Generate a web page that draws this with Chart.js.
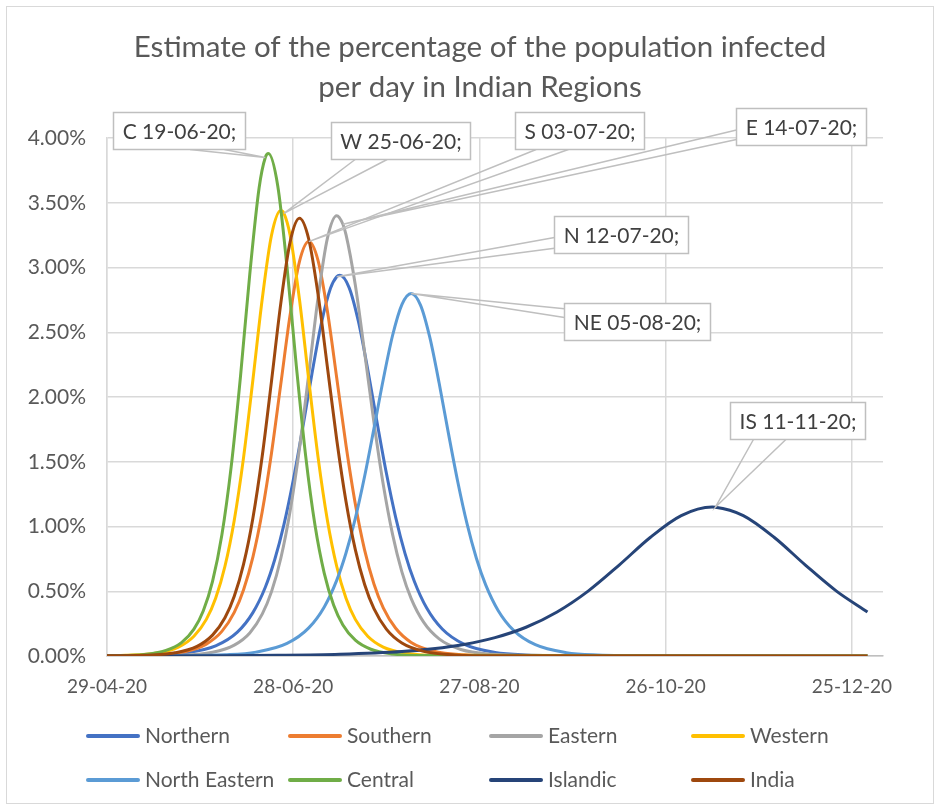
<!DOCTYPE html>
<html>
<head>
<meta charset="utf-8">
<script src="https://cdn.jsdelivr.net/npm/chart.js@4.4.1/dist/chart.umd.min.js"></script>
<style>
  html, body { margin: 0; padding: 0; background: #ffffff; }
  #wrap { position: relative; width: 940px; height: 807px; }
</style>
</head>
<body>
<div id="wrap"><canvas id="chart" width="940" height="807"></canvas></div>
<script>
// ---- chart text -------------------------------------------------------
const titleLines = ['Estimate of the percentage of the population infected', 'per day in Indian Regions'];
const startDate = '29-04-20';                       // day 0 of the x axis
const xTickDays = [0, 60, 120, 180, 240];
const xTickLabels = ['29-04-20', '28-06-20', '27-08-20', '26-10-20', '25-12-20'];

// ---- series: [day since 29-04-20, % of population infected that day] --
const seriesNames = ['Northern', 'Southern', 'Eastern', 'Western', 'North Eastern', 'Central', 'Islandic', 'India'];

const northern = [[0,0.001],[15,0.007],[25,0.023],[35,0.078],[42,0.184],[47,0.335],[51,0.531],[54,0.741],[57,1.014],[60,1.356],[63,1.754],[66,2.176],[69,2.562],[72,2.839],[74,2.929],[75,2.94],[78,2.845],[81,2.583],[84,2.213],[87,1.805],[90,1.413],[93,1.071],[96,0.793],[99,0.577],[103,0.370],[108,0.208],[115,0.091],[125,0.027],[135,0.008],[155,0.001],[245,0]];
const southern = [[0,0.001],[15,0.007],[25,0.033],[32,0.092],[37,0.190],[41,0.337],[44,0.512],[47,0.764],[50,1.114],[53,1.568],[56,2.101],[59,2.635],[62,3.045],[65,3.20],[68,3.053],[71,2.664],[74,2.149],[77,1.627],[80,1.174],[83,0.818],[86,0.556],[89,0.372],[93,0.214],[98,0.105],[105,0.039],[115,0.009],[130,0.001],[245,0]];
const eastern = [[0,0],[24,0.006],[34,0.029],[41,0.084],[46,0.178],[50,0.323],[53,0.497],[56,0.755],[59,1.119],[62,1.601],[65,2.178],[68,2.767],[71,3.225],[74,3.40],[76,3.334],[77,3.254],[80,2.865],[83,2.343],[86,1.803],[89,1.324],[92,0.939],[95,0.650],[98,0.443],[102,0.261],[107,0.132],[114,0.050],[124,0.013],[139,0.002],[245,0]];
const western = [[0,0.002],[6,0.005],[16,0.023],[23,0.069],[28,0.153],[32,0.283],[35,0.446],[38,0.693],[41,1.049],[44,1.534],[47,2.131],[50,2.755],[53,3.249],[56,3.44],[57,3.418],[59,3.249],[62,2.755],[65,2.131],[68,1.534],[71,1.049],[74,0.693],[77,0.446],[80,0.283],[84,0.153],[89,0.069],[96,0.023],[106,0.005],[245,0]];
const northEastern = [[0,0],[23,0.002],[38,0.009],[48,0.030],[58,0.097],[65,0.217],[70,0.379],[74,0.584],[77,0.795],[80,1.063],[83,1.388],[86,1.756],[89,2.135],[92,2.475],[95,2.714],[98,2.80],[101,2.710],[104,2.460],[107,2.108],[110,1.719],[113,1.346],[116,1.020],[119,0.755],[122,0.549],[126,0.352],[131,0.198],[138,0.087],[148,0.026],[158,0.008],[178,0.001],[245,0]];
const central = [[0,0.002],[12,0.012],[19,0.043],[24,0.103],[28,0.208],[31,0.348],[34,0.577],[37,0.934],[40,1.460],[43,2.158],[46,2.949],[49,3.614],[51,3.849],[52,3.88],[55,3.632],[58,3.002],[61,2.239],[64,1.545],[67,1.011],[70,0.638],[73,0.394],[76,0.240],[80,0.122],[85,0.052],[92,0.016],[102,0.003],[245,0]];
const islandic = [[0,0],[35,0.002],[55,0.005],[75,0.013],[95,0.034],[105,0.056],[115,0.089],[125,0.142],[135,0.222],[145,0.340],[155,0.501],[165,0.702],[175,0.915],[185,1.084],[195,1.15],[196,1.149],[205,1.084],[215,0.915],[225,0.702],[235,0.501],[245,0.340]];
const india = [[0,0.001],[12,0.005],[22,0.025],[29,0.074],[34,0.161],[38,0.295],[41,0.461],[44,0.709],[47,1.064],[50,1.542],[53,2.123],[56,2.725],[59,3.198],[62,3.38],[65,3.218],[68,2.791],[71,2.232],[74,1.672],[77,1.193],[80,0.821],[83,0.552],[86,0.365],[90,0.207],[95,0.100],[102,0.036],[112,0.008],[127,0.001],[245,0]];

// ---- peak-date callouts ------------------------------------------------
const calloutTexts  = ['C 19-06-20;', 'W 25-06-20;', 'S 03-07-20;', 'E 14-07-20;', 'N 12-07-20;', 'NE 05-08-20;', 'IS 11-11-20;'];
const calloutSeries = ['Central', 'Western', 'Southern', 'Eastern', 'Northern', 'North Eastern', 'Islandic'];

// ---- styling -----------------------------------------------------------
const FONT = 'Lato, "Open Sans", sans-serif';
const seriesColors = ['#4472C4', '#ED7D31', '#A5A5A5', '#FFC000', '#5B9BD5', '#70AD47', '#264478', '#9E480E'];
const seriesData = [northern, southern, eastern, western, northEastern, central, islandic, india];
// box offset from the pointed-at point, and where the pointer leaves the box
const calloutPlacement = [
  { dx: -86,  dy: -27,  side: 'bottom', a: 0.58, b: 0.84 },
  { dx: 117,  dy: -73,  side: 'bottom', a: 0.17, b: 0.40 },
  { dx: 271,  dy: -111, side: 'bottom', a: 0.16, b: 0.41 },
  { dx: 458,  dy: -98,  side: 'left',   a: 0.58, b: 0.84 },
  { dx: 284,  dy: -42,  side: 'left',   a: 0.57, b: 0.86 },
  { dx: 226,  dy: 28,   side: 'left',   a: 0.14, b: 0.38 },
  { dx: 82,   dy: -87,  side: 'bottom', a: 0.17, b: 0.41 }
];

function parseDay(label) {
  const [d, m, y] = label.split('-').map(Number);
  return Date.UTC(2000 + y, m - 1, d);
}
function dayIndex(label) {
  return Math.round((parseDay(label) - parseDay(startDate)) / 86400000);
}

const datasets = seriesNames.map((name, i) => ({
  label: name,
  data: seriesData[i].map(([x, y]) => ({ x, y })),
  borderColor: seriesColors[i],
  backgroundColor: seriesColors[i],
  borderWidth: 3,
  pointRadius: 0,
  pointHoverRadius: 0,
  fill: false,
  cubicInterpolationMode: 'monotone',
  order: seriesNames.length - 1 - i   // later series are painted on top
}));

const decor = {
  id: 'decor',
  beforeDraw(chart) {
    const ctx = chart.ctx;
    ctx.save();
    ctx.fillStyle = '#ffffff';
    ctx.fillRect(0, 0, chart.width, chart.height);
    ctx.strokeStyle = '#D9D9D9';
    ctx.lineWidth = 1;
    ctx.strokeRect(6.5, 6.5, 927, 797);
    ctx.restore();
  },
  afterDatasetsDraw(chart) {
    const ctx = chart.ctx;
    ctx.save();
    ctx.font = `21px ${FONT}`;
    calloutTexts.forEach((text, i) => {
      const ds = seriesNames.indexOf(calloutSeries[i]);
      const day = dayIndex(text.split(' ')[1].replace(';', ''));
      const idx = chart.data.datasets[ds].data.findIndex(p => p.x === day);
      const pt = chart.getDatasetMeta(ds).data[idx];
      const pl = calloutPlacement[i];
      const w = Math.round(ctx.measureText(text).width + 18);
      const h = 37;
      const left = Math.round(pt.x + pl.dx - w / 2) + 0.5;
      const top = Math.round(pt.y + pl.dy - h / 2) + 0.5;
      let p1, p2;
      if (pl.side === 'bottom') {
        p1 = [left + pl.a * w, top + h];
        p2 = [left + pl.b * w, top + h];
      } else {
        p1 = [left, top + pl.a * h];
        p2 = [left, top + pl.b * h];
      }
      ctx.strokeStyle = '#BFBFBF';
      ctx.lineWidth = 1.5;
      ctx.beginPath();
      ctx.moveTo(p1[0], p1[1]);
      ctx.lineTo(pt.x, pt.y);
      ctx.lineTo(p2[0], p2[1]);
      ctx.stroke();
      ctx.fillStyle = '#ffffff';
      ctx.fillRect(left, top, w, h);
      ctx.strokeRect(left, top, w, h);
      ctx.fillStyle = '#404040';
      ctx.textAlign = 'center';
      ctx.textBaseline = 'middle';
      ctx.fillText(text, left + w / 2, top + h / 2 + 1);
    });
    ctx.restore();
  },
  afterDraw(chart) {
    const ctx = chart.ctx;
    ctx.save();
    // title
    ctx.font = `29.5px ${FONT}`;
    ctx.fillStyle = '#595959';
    ctx.textAlign = 'center';
    ctx.textBaseline = 'alphabetic';
    titleLines.forEach((t, i) => ctx.fillText(t, 480, 57 + i * 40));
    // legend, four columns by two rows
    const cols = [86, 288, 489, 691];
    const rows = [736, 780];
    ctx.font = `21px ${FONT}`;
    ctx.textAlign = 'left';
    ctx.textBaseline = 'middle';
    chart.data.datasets.forEach((ds, i) => {
      const x = cols[i % 4];
      const y = rows[Math.floor(i / 4)];
      ctx.strokeStyle = ds.borderColor;
      ctx.lineWidth = 4;
      ctx.lineCap = 'round';
      ctx.beginPath();
      ctx.moveTo(x + 2, y);
      ctx.lineTo(x + 52, y);
      ctx.stroke();
      ctx.fillStyle = '#595959';
      ctx.fillText(ds.label, x + 59, y);
    });
    ctx.restore();
  }
};

new Chart(document.getElementById('chart'), {
  type: 'line',
  data: { datasets },
  options: {
    responsive: false,
    animation: false,
    layout: { padding: { top: 138, right: 57, bottom: 0, left: 0 } },
    plugins: { legend: { display: false }, title: { display: false }, tooltip: { enabled: false } },
    scales: {
      x: {
        type: 'linear',
        min: 0,
        max: 250,
        afterFit: s => { s.height = 151; },
        ticks: {
          stepSize: 60,
          includeBounds: false,
          autoSkip: false,
          maxRotation: 0,
          padding: 19,
          color: '#595959',
          font: { family: FONT, size: 19 },
          callback: v => { const k = xTickDays.indexOf(v); return k >= 0 ? xTickLabels[k] : ''; }
        },
        grid: { color: '#D9D9D9', lineWidth: 1.5, drawTicks: false },
        border: { display: true, color: '#BFBFBF', width: 1.5 }
      },
      y: {
        min: 0,
        max: 4,
        afterFit: s => { s.width = 107; },
        ticks: {
          stepSize: 0.5,
          padding: 21,
          color: '#595959',
          font: { family: FONT, size: 21 },
          callback: v => v.toFixed(2) + '%'
        },
        grid: { color: '#D9D9D9', lineWidth: 1.5, drawTicks: false },
        border: { display: true, color: '#D9D9D9', width: 1.5 }
      }
    }
  },
  plugins: [decor]
});
</script>
</body>
</html>
